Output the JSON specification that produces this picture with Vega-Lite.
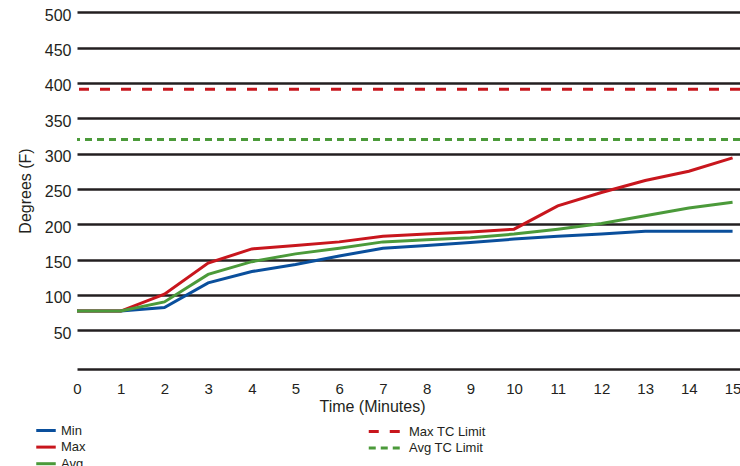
{
  "$schema": "https://vega.github.io/schema/vega-lite/v6.json",
  "autosize": {"type": "none"},
  "width": 663,
  "height": 357,
  "padding": {"left": 77, "top": 12, "right": 0, "bottom": 97},
  "background": "white",
  "config": {
    "view": {"stroke": null},
    "font": "Liberation Sans",
    "axis": {"labelColor": "#231f20", "titleColor": "#231f20", "labelFont": "Liberation Sans", "titleFont": "Liberation Sans", "titleFontWeight": "normal"},
    "legend": {"labelFont": "Liberation Sans", "labelColor": "#231f20", "padding": 0, "symbolFillColor": "transparent"}
  },
  "datasets": {
    "series": [
      {"minute": 0, "series": "Min", "temp": 77},
      {"minute": 1, "series": "Min", "temp": 77},
      {"minute": 2, "series": "Min", "temp": 82},
      {"minute": 3, "series": "Min", "temp": 117},
      {"minute": 4, "series": "Min", "temp": 133},
      {"minute": 5, "series": "Min", "temp": 143},
      {"minute": 6, "series": "Min", "temp": 155},
      {"minute": 7, "series": "Min", "temp": 166},
      {"minute": 8, "series": "Min", "temp": 170},
      {"minute": 9, "series": "Min", "temp": 174},
      {"minute": 10, "series": "Min", "temp": 179},
      {"minute": 11, "series": "Min", "temp": 183},
      {"minute": 12, "series": "Min", "temp": 186},
      {"minute": 13, "series": "Min", "temp": 190},
      {"minute": 14, "series": "Min", "temp": 190},
      {"minute": 15, "series": "Min", "temp": 190},
      {"minute": 0, "series": "Max", "temp": 77},
      {"minute": 1, "series": "Max", "temp": 77},
      {"minute": 2, "series": "Max", "temp": 101},
      {"minute": 3, "series": "Max", "temp": 145},
      {"minute": 4, "series": "Max", "temp": 165},
      {"minute": 5, "series": "Max", "temp": 170},
      {"minute": 6, "series": "Max", "temp": 175},
      {"minute": 7, "series": "Max", "temp": 183},
      {"minute": 8, "series": "Max", "temp": 186},
      {"minute": 9, "series": "Max", "temp": 189},
      {"minute": 10, "series": "Max", "temp": 193},
      {"minute": 11, "series": "Max", "temp": 226},
      {"minute": 12, "series": "Max", "temp": 245},
      {"minute": 13, "series": "Max", "temp": 262},
      {"minute": 14, "series": "Max", "temp": 275},
      {"minute": 15, "series": "Max", "temp": 294},
      {"minute": 0, "series": "Avg", "temp": 77},
      {"minute": 1, "series": "Avg", "temp": 77},
      {"minute": 2, "series": "Avg", "temp": 90},
      {"minute": 3, "series": "Avg", "temp": 129},
      {"minute": 4, "series": "Avg", "temp": 147},
      {"minute": 5, "series": "Avg", "temp": 158},
      {"minute": 6, "series": "Avg", "temp": 166},
      {"minute": 7, "series": "Avg", "temp": 175},
      {"minute": 8, "series": "Avg", "temp": 178},
      {"minute": 9, "series": "Avg", "temp": 181},
      {"minute": 10, "series": "Avg", "temp": 186},
      {"minute": 11, "series": "Avg", "temp": 193},
      {"minute": 12, "series": "Avg", "temp": 201},
      {"minute": 13, "series": "Avg", "temp": 212},
      {"minute": 14, "series": "Avg", "temp": 223},
      {"minute": 15, "series": "Avg", "temp": 231}
    ],
    "limits": [
      {"limit": "Max TC Limit", "temp": 391},
      {"limit": "Avg TC Limit", "temp": 320}
    ]
  },
  "encoding": {
    "y": {
      "field": "temp", "type": "quantitative",
      "scale": {"domain": [-5, 500.5], "nice": false, "zero": false},
      "axis": {
        "title": "Degrees (F)", "values": [50,100,150,200,250,300,350,400,450,500],
        "grid": true, "gridColor": "#231f20", "gridWidth": 2.5,
        "ticks": false, "domain": false, "labelOverlap": false,
        "labelFontSize": 16, "labelPadding": 6, "labelOffset": 3,
        "titleFontSize": 16, "titleX": -52, "titleY": 178.5, "titleAlign": "center", "titleBaseline": "middle", "titleAngle": 270
      }
    }
  },
  "layer": [
    {
      "data": {"name": "series"},
      "mark": {"type": "line", "strokeWidth": 3, "clip": false},
      "encoding": {
        "x": {
          "field": "minute", "type": "quantitative",
          "scale": {"domain": [0, 15.17], "nice": false, "zero": false},
          "axis": {
            "title": "Time (Minutes)", "values": [0,1,2,3,4,5,6,7,8,9,10,11,12,13,14,15],
            "grid": false, "ticks": false, "domain": true, "domainColor": "#231f20", "domainWidth": 2.5,
            "labelFontSize": 15, "labelPadding": 12, "labelFlush": false, "labelOverlap": false,
            "titleFontSize": 16, "titleX": 295, "titleY": 37, "titleAlign": "center", "titleBaseline": "middle", "titleAnchor": null
          }
        },
        "color": {
          "field": "series", "type": "nominal",
          "scale": {"domain": ["Min", "Max", "Avg"], "range": ["#0a4f9c", "#c8161d", "#4b9a3a"]},
          "legend": {
            "title": null, "orient": "none", "legendX": -39, "legendY": 410.5,
            "symbolType": "M-1.5,0H1.5", "symbolSize": 169, "symbolStrokeWidth": 3,
            "labelFontSize": 13, "labelOffset": 7, "rowPadding": 1.6, "direction": "vertical"
          }
        }
      }
    },
    {
      "data": {"name": "limits"},
      "mark": {"type": "rule", "strokeWidth": 3},
      "encoding": {
        "stroke": {
          "field": "limit", "type": "nominal",
          "scale": {"domain": ["Max TC Limit", "Avg TC Limit"], "range": ["#c8161d", "#4b9a3a"]},
          "legend": {
            "title": null, "orient": "none", "legendX": 300, "legendY": 411.5,
            "symbolType": "M-2.5,0H2.5", "symbolSize": 169, "symbolStrokeWidth": 3,
            "labelFontSize": 13, "labelOffset": 16, "rowPadding": 1.6, "direction": "vertical"
          }
        },
        "strokeDash": {
          "field": "limit", "type": "nominal",
          "scale": {"domain": ["Max TC Limit", "Avg TC Limit"], "range": [[10, 11], [7, 5]]},
          "legend": {
            "title": null, "orient": "none", "legendX": 300, "legendY": 411.5,
            "symbolType": "M-2.5,0H2.5", "symbolSize": 169, "symbolStrokeWidth": 3,
            "labelFontSize": 13, "labelOffset": 16, "rowPadding": 1.6, "direction": "vertical"
          }
        }
      }
    }
  ]
}
